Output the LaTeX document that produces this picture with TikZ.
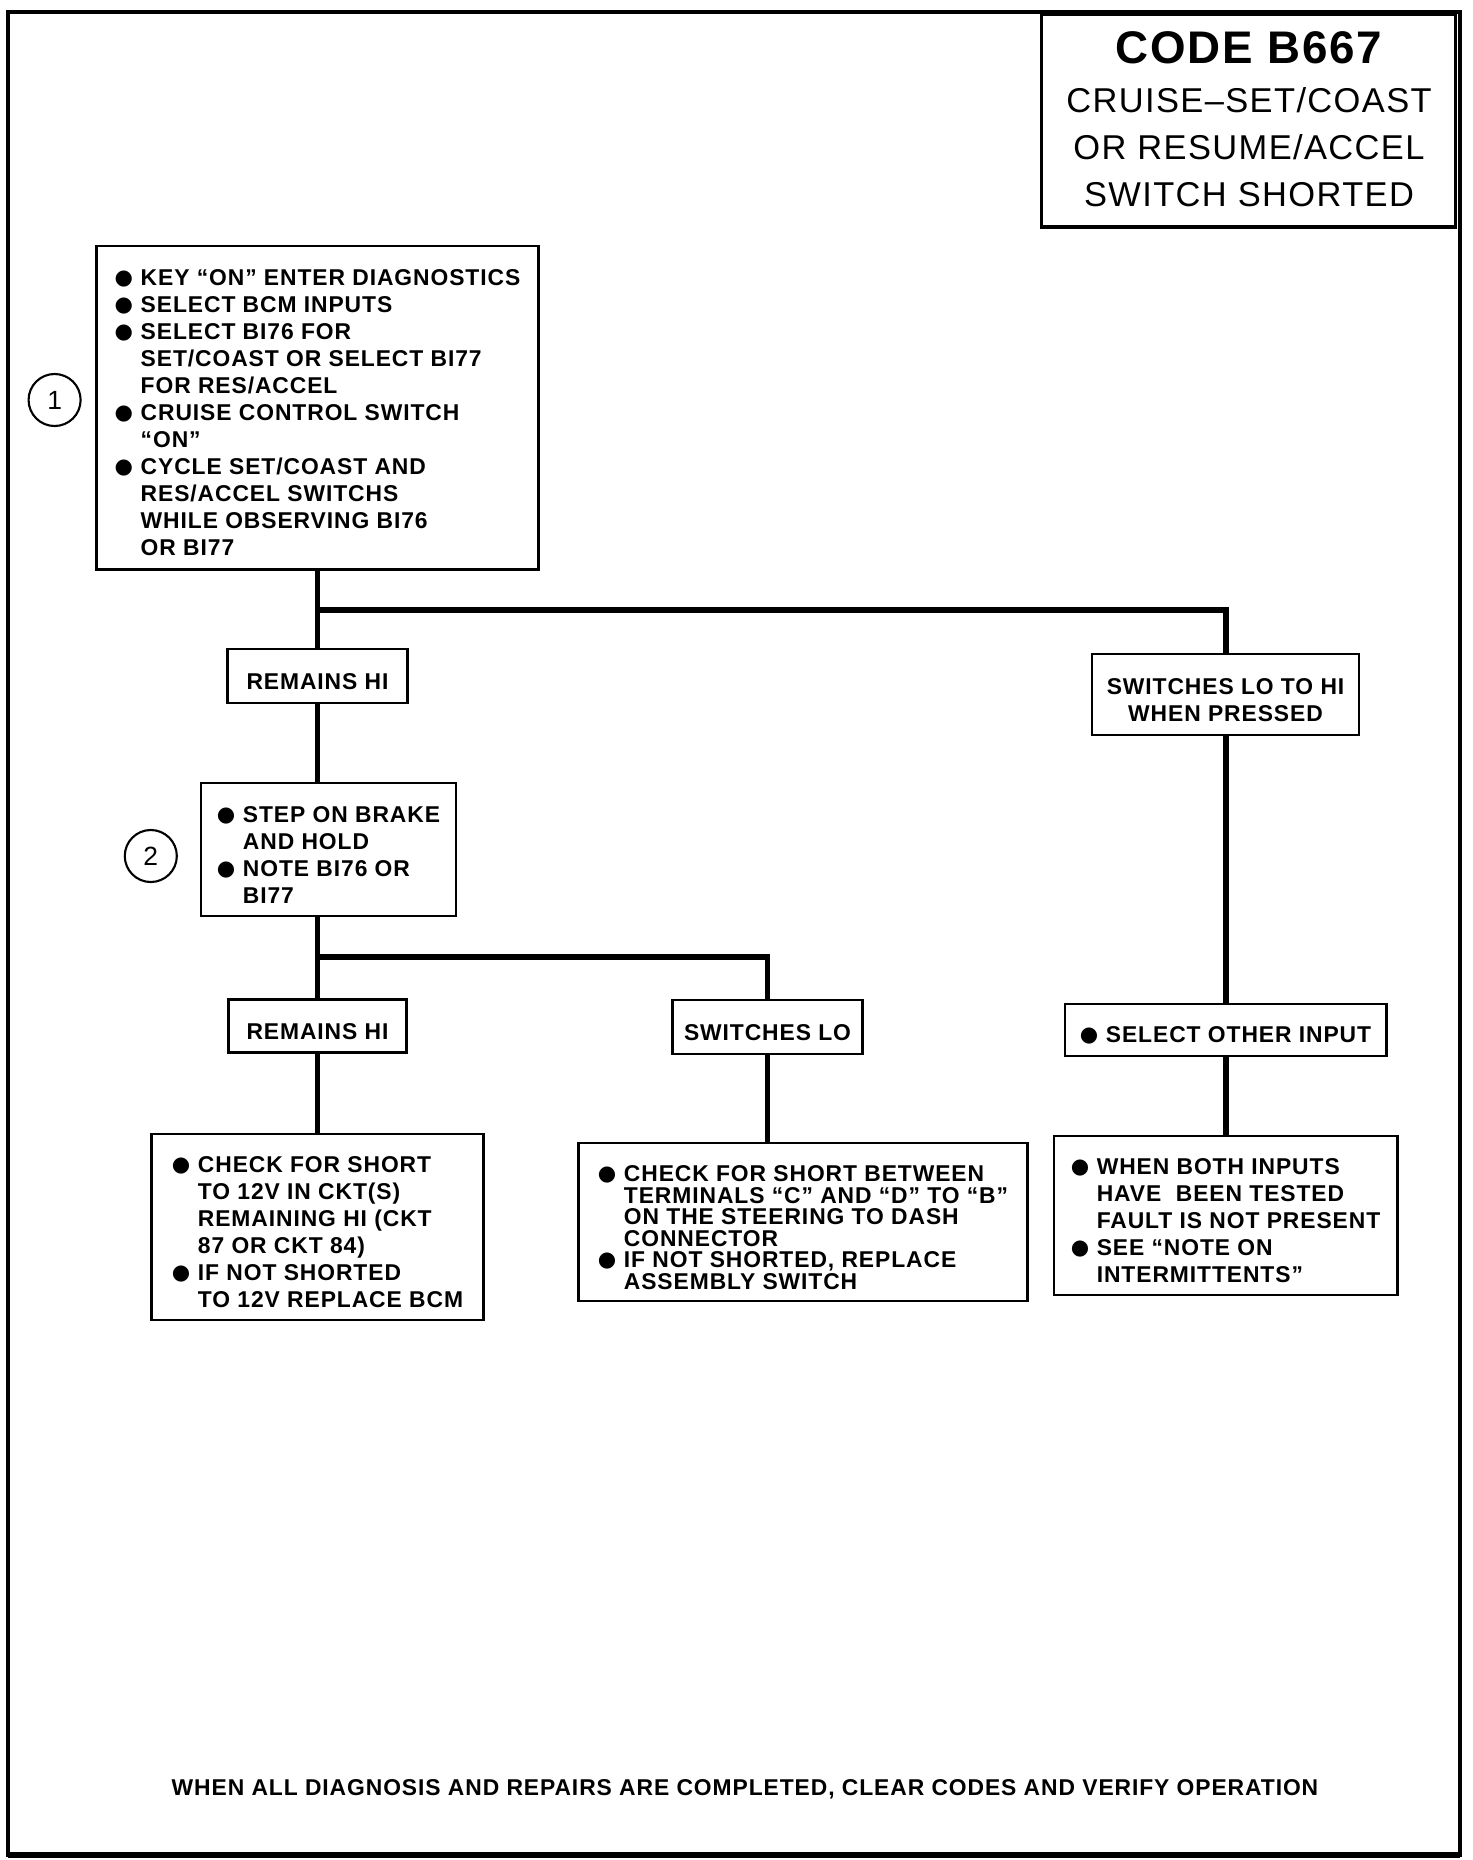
\documentclass[tikz,border=0pt]{standalone}
\usepackage{fontspec}
\setmainfont{Liberation Sans}[LetterSpace=4]
\newfontfamily\dotfont{DejaVu Sans}
\newcommand{\blt}{\makebox[0.26cm][l]{\raisebox{0.1ex}{\dotfont\fontsize{6}{6}\selectfont ●}}}
\newcommand{\ind}{\hspace*{0.26cm}}
\newcommand{\lift}{\rule{0pt}{0.27cm}}

\begin{document}
\begin{tikzpicture}[x=0.01cm,y=-0.01cm,
    box/.style={draw,line width=0.8pt,align=left,font=\bfseries\fontsize{6.5}{7.68}\selectfont},
    tag/.style={box,align=center},
    num/.style={draw,circle,line width=0.6pt,minimum size=0.52cm,inner sep=0pt,font=\fontsize{7.5}{8}\selectfont},
    link/.style={line width=1.7pt}]
  \useasboundingbox (0,0) rectangle (1472,1860);
  \draw[line width=0.9pt] (8,12) rectangle (1460,1855);
  \draw[line width=1.7pt] (8,1855) -- (1460,1855);

  \node[draw,fill=white,line width=0.9pt,minimum width=4.13cm,minimum height=2.13cm] (title) at (1248.5,120.5) {};
  \node[anchor=base,font=\bfseries\fontsize{13}{13}\selectfont] (code) at (1249,63) {CODE B667};
  \node[anchor=base,font=\fontsize{9.8}{9.8}\selectfont] (tl1) at (1249,112) {CRUISE–SET/COAST};
  \node[anchor=base,font=\fontsize{9.8}{9.8}\selectfont] (tl2) at (1249,159) {OR RESUME/ACCEL};
  \node[anchor=base,font=\fontsize{9.8}{9.8}\selectfont] (tl3) at (1249,206) {SWITCH SHORTED};

  \node[box,minimum width=4.41cm,minimum height=3.23cm] (check) at (317.5,407.5) {\lift\blt KEY “ON” ENTER DIAGNOSTICS\\
    \blt SELECT BCM INPUTS\\
    \blt SELECT BI76 FOR\\
    \ind SET/COAST OR SELECT BI77\\
    \ind FOR RES/ACCEL\\
    \blt CRUISE CONTROL SWITCH\\
    \ind “ON”\\
    \blt CYCLE SET/COAST AND\\
    \ind RES/ACCEL SWITCHS\\
    \ind WHILE OBSERVING BI76\\
    \ind OR BI77};
  \node[num] (n1) at (54.6,400) {1};

  \node[tag,minimum width=1.8cm,minimum height=0.54cm] (hi1) at (317.5,676) {\lift REMAINS HI};
  \node[tag,minimum width=2.67cm,minimum height=0.81cm] (lohi) at (1225.5,694.5) {\lift SWITCHES LO TO HI\\WHEN PRESSED};

  \node[box,minimum width=2.55cm,minimum height=1.33cm] (brake) at (328.5,849.5) {\lift\blt STEP ON BRAKE\\
    \ind AND HOLD\\
    \blt NOTE BI76 OR\\
    \ind BI77};
  \node[num] (n2) at (150.8,856) {2};

  \node[tag,minimum width=1.78cm,minimum height=0.53cm] (hi2) at (317.5,1026) {\lift REMAINS HI};
  \node[tag,minimum width=1.89cm,minimum height=0.54cm] (lo) at (767.5,1027) {\lift SWITCHES LO};
  \node[box,minimum width=3.21cm,minimum height=0.51cm] (other) at (1225.5,1030) {\lift\blt SELECT OTHER INPUT};

  \node[box,minimum width=3.31cm,minimum height=1.86cm] (shorthi) at (317.5,1227) {\lift\blt CHECK FOR SHORT\\
    \ind TO 12V IN CKT(S)\\
    \ind REMAINING HI (CKT\\
    \ind 87 OR CKT 84)\\
    \blt IF NOT SHORTED\\
    \ind TO 12V REPLACE BCM};
  \node[box,minimum width=4.48cm,minimum height=1.58cm,font=\bfseries\fontsize{6.5}{6.1}\selectfont] (shortlo) at (803,1222) {\lift\blt CHECK FOR SHORT BETWEEN\\
    \ind TERMINALS “C” AND “D” TO “B”\\
    \ind ON THE STEERING TO DASH\\
    \ind CONNECTOR\\
    \blt IF NOT SHORTED, REPLACE\\
    \ind ASSEMBLY SWITCH};
  \node[box,minimum width=3.43cm,minimum height=1.59cm] (done) at (1225.5,1215.5) {\lift\blt WHEN BOTH INPUTS\\
    \ind HAVE \ BEEN TESTED\\
    \ind FAULT IS NOT PRESENT\\
    \blt SEE “NOTE ON\\
    \ind INTERMITTENTS”};

  \coordinate (j1) at (317.5,610);
  \coordinate (j2) at (317.5,957);
  \draw[link] (check.south) -- (hi1.north);
  \draw[link] (j1) -| (lohi.north);
  \draw[link] (hi1.south) -- (hi1.south |- brake.north);
  \draw[link] (hi2.north |- brake.south) -- (hi2.north);
  \draw[link] (j2) -| (lo.north);
  \draw[link] (hi2.south) -- (shorthi.north);
  \draw[link] (lo.south) -- (lo.south |- shortlo.north);
  \draw[link] (lohi.south) -- (other.north);
  \draw[link] (other.south) -- (done.north);

  \node[font=\bfseries\fontsize{6.5}{6.8}\selectfont] (note) at (745,1789) {WHEN ALL DIAGNOSIS AND REPAIRS ARE COMPLETED, CLEAR CODES AND VERIFY OPERATION};
\end{tikzpicture}
\end{document}
